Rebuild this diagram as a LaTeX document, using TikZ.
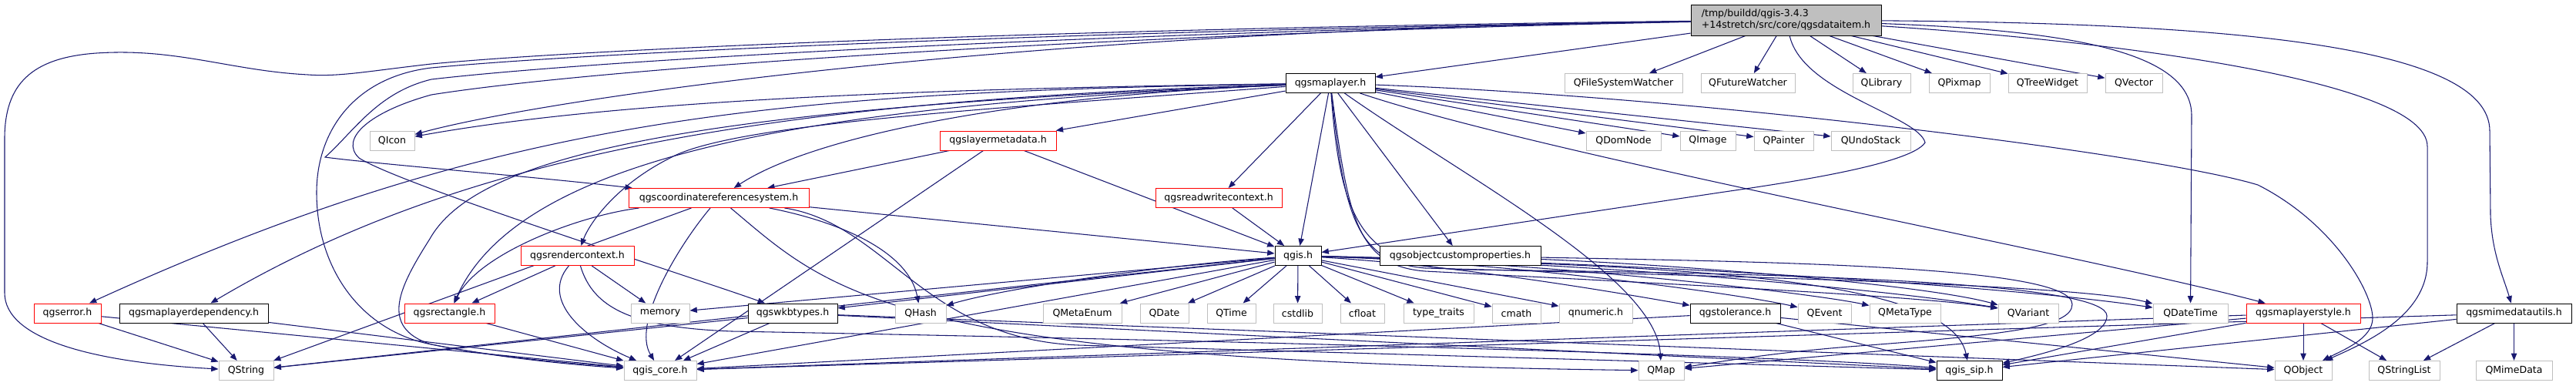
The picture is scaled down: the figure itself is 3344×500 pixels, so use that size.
\documentclass[tikz,border=0pt]{standalone}
\usepackage{fontspec}
\setmainfont{DejaVu Sans}
\usetikzlibrary{arrows.meta}
\definecolor{eblue}{HTML}{191970}
\definecolor{gbord}{HTML}{BFBFBF}
\definecolor{rbord}{HTML}{FF0000}
\definecolor{dfill}{HTML}{BFBFBF}
\pgfdeclarelayer{edgelayer}
\pgfsetlayers{edgelayer,main}
\tikzset{
  w/.style={minimum width=#1*0.75pt},
  nd/.style={draw, fill=white, minimum height=18.75pt, inner sep=0pt, line width=0.75pt,
    font=\fontsize{9.4pt}{11.25pt}\selectfont},
  ext/.style={nd, draw=gbord},
  trunc/.style={nd, draw=rbord},
  doc/.style={nd, draw=black},
  edge/.style={draw=eblue, line width=0.8pt, -{Triangle[length=7pt,width=5.5pt]}}
}
\begin{document}
\begin{tikzpicture}[x=0.75pt, y=-0.75pt]
\useasboundingbox (0,0) rectangle (3344,500);
% row 0
\node[doc, fill=dfill, w=247, minimum height=30pt, align=left] (D) at (2318.5,26)
  {/tmp/buildd/qgis-3.4.3\\+14stretch/src/core/qgsdataitem.h};
% row 1
\node[doc, w=116] (ML) at (1727,108) {qgsmaplayer.h};
\node[ext, w=153] (FSW) at (2107.5,108) {QFileSystemWatcher};
\node[ext, w=122] (FW) at (2269,108) {QFutureWatcher};
\node[ext, w=75] (QLib) at (2442.5,108) {QLibrary};
\node[ext, w=79] (QPix) at (2543.5,108) {QPixmap};
\node[ext, w=102] (QTW) at (2658,108) {QTreeWidget};
\node[ext, w=74] (QVec) at (2770,108) {QVector};
% row 2
\node[ext, w=58] (QIcon) at (509,182.5) {QIcon};
\node[trunc, w=151] (LMD) at (1295.5,182.5) {qgslayermetadata.h};
\node[ext, w=97] (QDom) at (2107.5,182.5) {QDomNode};
\node[ext, w=72] (QImg) at (2217,182.5) {QImage};
\node[ext, w=77] (QPaint) at (2315.5,182.5) {QPainter};
\node[ext, w=103] (QUndo) at (2428.5,182.5) {QUndoStack};
% row 3
\node[trunc, w=234] (CRS) at (933,257) {qgscoordinatereferencesystem.h};
\node[trunc, w=164] (RWC) at (1582,257) {qgsreadwritecontext.h};
% row 4
\node[trunc, w=147] (RC) at (749.5,332) {qgsrendercontext.h};
\node[doc, w=60] (QGIS) at (1685,332) {qgis.h};
\node[doc, w=209] (OCP) at (1895.5,332) {qgsobjectcustomproperties.h};
% row 5
\node[trunc, w=87] (ERR) at (87.5,406.5) {qgserror.h};
\node[doc, w=193] (MLD) at (251.5,406.5) {qgsmaplayerdependency.h};
\node[trunc, w=117] (RECT) at (583.5,406.5) {qgsrectangle.h};
\node[ext, w=76] (MEM) at (857,406.5) {memory};
\node[doc, w=116] (WKB) at (1029,406.5) {qgswkbtypes.h};
\node[ext, w=66] (QHash) at (1195,406.5) {QHash};
\node[ext, w=102] (QME) at (1405,406.5) {QMetaEnum};
\node[ext, w=63] (QDate) at (1511.5,406.5) {QDate};
\node[ext, w=63] (QTime) at (1598.5,406.5) {QTime};
\node[ext, w=63] (CSTD) at (1684.5,406.5) {cstdlib};
\node[ext, w=57] (CFLT) at (1768.5,406.5) {cfloat};
\node[ext, w=91] (TT) at (1867.5,406.5) {type\_traits};
\node[ext, w=63] (CMATH) at (1968.5,406.5) {cmath};
\node[ext, w=95] (QNUM) at (2071.5,406.5) {qnumeric.h};
\node[doc, w=117] (TOL) at (2252.5,406.5) {qgstolerance.h};
\node[ext, w=69] (QEvt) at (2368.5,406.5) {QEvent};
\node[ext, w=92] (QMT) at (2473,406.5) {QMetaType};
\node[ext, w=78] (QVar) at (2633,406.5) {QVariant};
\node[ext, w=97] (QDT) at (2843.5,406.5) {QDateTime};
\node[trunc, w=148] (MLS) at (2990,406.5) {qgsmaplayerstyle.h};
\node[doc, w=149] (MDU) at (3263.5,406.5) {qgsmimedatautils.h};
% row 6
\node[ext, w=71] (QStr) at (319.5,481) {QString};
\node[ext, w=94] (CORE) at (857,481) {qgis\_core.h};
\node[ext, w=59] (QMap) at (2156.5,481) {QMap};
\node[doc, w=85] (SIP) at (2556.5,481) {qgis\_sip.h};
\node[ext, w=74] (QObj) at (2990,481) {QObject};
\node[ext, w=92] (QSL) at (3121,481) {QStringList};
\node[ext, w=99] (QMime) at (3263.5,481) {QMimeData};

\begin{pgfonlayer}{edgelayer}
% from qgsdataitem.h
\draw[edge] (D) -- (ML);
\draw[edge] (D) -- (FSW);
\draw[edge] (D) -- (FW);
\draw[edge] (D) -- (QLib);
\draw[edge] (D) -- (QPix);
\draw[edge] (D) -- (QTW);
\draw[edge] (D) -- (QVec);
\draw[edge] (D) .. controls (1500,35) and (800,60) .. (560,83) .. controls (480,92) and (440,100) .. (400,97)
  .. controls (300,92) and (230,62) .. (125,69) .. controls (40,75) and (6,110) .. (6,180) -- (6,380)
  .. controls (6,440) and (120,470) .. (QStr);
\draw[edge] (D) .. controls (1500,38) and (800,65) .. (560,88) .. controls (460,100) and (411,170) .. (411,250)
  .. controls (411,350) and (470,430) .. (560,447) .. controls (650,465) and (750,472) .. (CORE);
\draw[edge] (D) .. controls (1500,40) and (800,75) .. (560,103) .. controls (490,120) and (460,170) .. (422,204)
  .. controls (480,212) and (700,230) .. (CRS);
\draw[edge] (D) .. controls (1500,42) and (800,85) .. (560,123) .. controls (480,145) and (440,180) .. (466,205)
  .. controls (520,240) and (900,360) .. (WKB);
\draw[edge] (D) .. controls (1300,40) and (700,130) .. (QIcon);
\draw[edge] (D) .. controls (2340,120) and (2490,150) .. (2499,185) .. controls (2480,215) and (2300,240) .. (2232,250) -- (QGIS);
\draw[edge] (D) .. controls (2700,40) and (2845,70) .. (2845,150) -- (QDT);
\draw[edge] (D) .. controls (2700,50) and (3151,100) .. (3151,190) -- (3151,340)
  .. controls (3151,410) and (3070,445) .. (QObj);
\draw[edge] (D) .. controls (2900,30) and (3232,60) .. (3232,170) -- (3233,280)
  .. controls (3235,330) and (3250,360) .. (MDU);
% from qgsmaplayer.h
\draw[edge] (ML) .. controls (1200,115) and (800,130) .. (QIcon);
\draw[edge] (ML) -- (LMD);
\draw[edge] (ML) -- (RWC);
\draw[edge] (ML) -- (QGIS);
\draw[edge] (ML) -- (OCP);
\draw[edge] (ML) -- (QDom);
\draw[edge] (ML) -- (QImg);
\draw[edge] (ML) -- (QPaint);
\draw[edge] (ML) -- (QUndo);
\draw[edge] (ML) .. controls (2000,200) and (2700,330) .. (MLS);
\draw[edge] (ML) .. controls (1300,125) and (1050,180) .. (CRS);
\draw[edge] (ML) .. controls (1300,140) and (950,160) .. (870,205) .. controls (800,240) and (765,290) .. (RC);
\draw[edge] (ML) .. controls (1100,135) and (680,190) .. (RECT);
\draw[edge] (ML) .. controls (1000,120) and (650,150) .. (ERR);
\draw[edge] (ML) .. controls (1000,130) and (600,200) .. (MLD);
\draw[edge] (ML) .. controls (900,140) and (620,200) .. (558,310) .. controls (520,370) and (490,425) .. (560,447)
  .. controls (650,465) and (750,474) .. (CORE);
\draw[edge] (ML) .. controls (2200,125) and (2800,200) .. (2931,240) .. controls (3030,290) and (3080,380) .. (3080,413)
  .. controls (3080,440) and (3040,455) .. (QObj);
\draw[edge] (ML) .. controls (1900,230) and (2150,360) .. (QMap);
\draw[edge] (ML) .. controls (1750,280) and (1760,345) .. (1850,352) .. controls (2200,370) and (2500,385) .. (QVar);
\draw[edge] (ML) .. controls (1745,280) and (1760,340) .. (1850,348) .. controls (2300,360) and (2700,370) .. (QDT);
\draw[edge] (ML) .. controls (1740,290) and (1770,345) .. (1900,350) .. controls (2400,355) and (2735,370) .. (2735,410)
  .. controls (2735,440) and (2650,460) .. (SIP);
% from qgslayermetadata.h
\draw[edge] (LMD) -- (CRS);
\draw[edge] (LMD) -- (QGIS);
\draw[edge] (LMD) -- (CORE);
% from qgsreadwritecontext.h
\draw[edge] (RWC) -- (QGIS);
% from qgscoordinatereferencesystem.h
\draw[edge] (CRS) -- (QGIS);
\draw[edge] (CRS) .. controls (750,280) and (620,330) .. (RECT);
\draw[edge] (CRS) -- (QStr);
\draw[edge] (CRS) .. controls (1100,290) and (1180,330) .. (QHash);
\draw[edge] (CRS) .. controls (880,320) and (820,420) .. (CORE);
\draw[edge] (CRS) .. controls (1080,380) and (1150,468) .. (QMap);
\draw[edge] (CRS) .. controls (1150,290) and (1200,440) .. (1400,448) -- (SIP);
% from qgsrendercontext.h
\draw[edge] (RC) -- (RECT);
\draw[edge] (RC) -- (MEM);
\draw[edge] (RC) .. controls (700,390) and (760,440) .. (CORE);
\draw[edge] (RC) .. controls (770,400) and (820,425) .. (950,430) .. controls (1500,440) and (2300,460) .. (SIP);
% from qgis.h
\draw[edge] (QGIS) .. controls (1500,345) and (1300,375) .. (QHash);
\draw[edge] (QGIS) -- (QME);
\draw[edge] (QGIS) -- (QDate);
\draw[edge] (QGIS) -- (QTime);
\draw[edge] (QGIS) -- (CSTD);
\draw[edge] (QGIS) -- (CFLT);
\draw[edge] (QGIS) -- (TT);
\draw[edge] (QGIS) -- (CMATH);
\draw[edge] (QGIS) -- (QNUM);
\draw[edge] (QGIS) .. controls (1900,345) and (2100,380) .. (TOL);
\draw[edge] (QGIS) .. controls (1950,340) and (2250,380) .. (QEvt);
\draw[edge] (QGIS) .. controls (2000,340) and (2350,380) .. (QMT);
\draw[edge] (QGIS) .. controls (2050,340) and (2450,375) .. (QVar);
\draw[edge] (QGIS) .. controls (2100,340) and (2600,370) .. (QDT);
\draw[edge] (QGIS) .. controls (2100,345) and (2530,350) .. (SIP);
\draw[edge] (QGIS) -- (MEM);
\draw[edge] (QGIS) -- (WKB);
\draw[edge] (QGIS) -- (QStr);
\draw[edge] (QGIS) -- (CORE);
% from qgsobjectcustomproperties.h
\draw[edge] (OCP) .. controls (2200,345) and (2500,370) .. (QVar);
\draw[edge] (OCP) .. controls (2300,340) and (2690,345) .. (2690,395) .. controls (2690,425) and (2600,435) .. (2400,450)
  .. controls (2300,458) and (2230,470) .. (QMap);
% lower nodes
\draw[edge] (ERR) -- (QStr);
\draw[edge] (ERR) -- (CORE);
\draw[edge] (MLD) -- (QStr);
\draw[edge] (MLD) -- (CORE);
\draw[edge] (RECT) -- (CORE);
\draw[edge] (WKB) -- (QStr);
\draw[edge] (WKB) -- (CORE);
\draw[edge] (WKB) -- (SIP);
\draw[edge] (WKB) -- (QObj);
\draw[edge] (TOL) -- (CORE);
\draw[edge] (TOL) -- (SIP);
\draw[edge] (TOL) -- (QObj);
\draw[edge] (MLS) -- (QObj);
\draw[edge] (MLS) -- (QSL);
\draw[edge] (MLS) -- (CORE);
\draw[edge] (MLS) -- (SIP);
\draw[edge] (MLS) -- (QMap);
\draw[edge] (MDU) -- (QSL);
\draw[edge] (MDU) -- (QMime);
\draw[edge] (MDU) -- (CORE);
\draw[edge] (MDU) -- (SIP);
\end{pgfonlayer}
\end{tikzpicture}
\end{document}
